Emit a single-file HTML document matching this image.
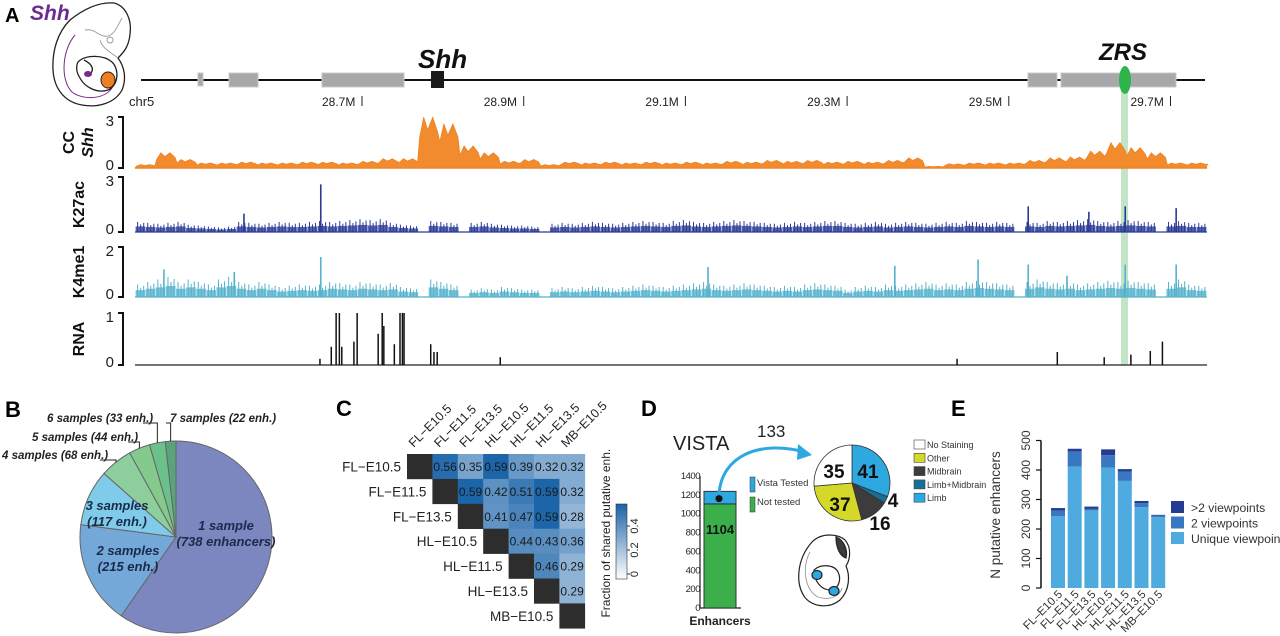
<!DOCTYPE html>
<html><head><meta charset="utf-8"><style>
html,body{margin:0;padding:0;background:#fff;}
svg{display:block;font-family:"Liberation Sans",sans-serif;}
</style></head><body>
<svg id="fig" width="1280" height="636" viewBox="0 0 1280 636" xmlns="http://www.w3.org/2000/svg">
<text x="5" y="22" font-size="20" font-weight="bold">A</text>
<text x="30" y="20" font-size="21" font-weight="bold" font-style="italic" fill="#6a2c91">Shh</text>
<g fill="none" stroke="#222" stroke-width="1.3">
<path d="M70,20 C85,8 100,2 114,3 C126,6 132,20 130,34 C129,46 124,52 118,58 C124,66 127,78 122,90 C115,103 98,108 82,105 C64,102 54,88 53,70 C52,50 58,32 70,20 Z" fill="#fff"/>
<path d="M85,30 C95,28 100,38 108,36 C115,34 118,25 122,18 M100,40 C102,48 110,52 118,58" stroke="#999" stroke-width="0.9"/>
<circle cx="110" cy="40" r="3" stroke="#999" stroke-width="0.9"/>
<path d="M75,35 C62,50 60,80 72,92 C82,100 104,100 112,88" stroke="#7a2a8a" stroke-width="1"/>
<path d="M78,62 C86,54 104,55 112,62 C120,70 118,86 108,90 C96,94 84,86 80,78 C76,72 76,66 78,62 Z" fill="#fff"/>
<path d="M84,60 C92,64 96,70 88,76"/>
</g>
<ellipse cx="88" cy="74" rx="4" ry="3" fill="#7a2a8a"/>
<ellipse cx="108" cy="80" rx="7" ry="8" fill="#f07f22" stroke="#222"/>
<line x1="141" y1="80" x2="1205" y2="80" stroke="#111" stroke-width="2"/>
<g fill="#a8a8a8" stroke="#c8c8c8" stroke-width="1">
<rect x="198" y="73" width="5" height="13"/><rect x="229" y="73" width="29" height="14"/><rect x="322" y="73" width="82" height="14"/>
<rect x="1028" y="73" width="29" height="14"/><rect x="1061" y="73" width="115" height="14"/>
</g>
<rect x="431" y="71" width="13" height="17" fill="#1a1a1a"/>
<text x="418" y="68" font-size="26" font-weight="bold" font-style="italic" fill="#111">Shh</text>
<text x="1099" y="60" font-size="24" font-weight="bold" font-style="italic" fill="#111">ZRS</text>
<rect x="1121" y="86" width="7" height="279" fill="#b9e0bd" opacity="0.85"/>
<ellipse cx="1125" cy="80" rx="6" ry="14" fill="#2db44a"/>
<text x="129" y="106" font-size="13" fill="#222">chr5</text>
<g id="ticksA"></g>
<g id="tracks"></g>
<text x="5" y="417" font-size="22" font-weight="bold">B</text>
<g id="pieB"></g>
<text x="336" y="416" font-size="22" font-weight="bold">C</text>
<g id="heat"></g>
<text x="641" y="416" font-size="22" font-weight="bold">D</text>
<g id="panD"></g>
<text x="951" y="416" font-size="22" font-weight="bold">E</text>
<g id="panE"></g>
</svg>
<script>
// ===== Panel A data =====
const tickMb = [28.7, 28.9, 29.1, 29.3, 29.5, 29.7];
const tickLabels = ["28.7M", "28.9M", "29.1M", "29.3M", "29.5M", "29.7M"];
const ccStart = 28.42;
const ccBin = 0.025;
const ccVals = [0.2,0.9,0.5,0.3,0.3,0.35,0.3,0.3,0.35,0.35,0.3,0.4,0.55,0.55,3,2.6,1.3,0.9,0.4,0.5,0.2,0.35,0.3,0.35,0.3,0.35,0.3,0.35,0.3,0.4,0.35,0.45,0.4,0.45,0.35,0.4,0.35,0.45,0.6,0.1,0.25,0.3,0.3,0.3,0.45,0.6,0.65,1.0,1.5,1.2,0.9,0.3,0.3,0.25];
const chipBin = 0.0125;
const k27Vals = [0.55,0.5,0.45,0.5,0.55,0.4,0.35,0.3,0.25,0.3,0.55,0.5,0.45,0.5,0.55,0.5,0.5,0.55,0.6,0.55,0.6,0.65,0.7,0.65,0.7,0.5,0.4,0.35,0,0.6,0.55,0.5,0,0.5,0.55,0.45,0.4,0.35,0.35,0.3,0,0.45,0.5,0.45,0.5,0.55,0.5,0.45,0.5,0.55,0.6,0.55,0.5,0.6,0.65,0.55,0.5,0.55,0.6,0.65,0.6,0.55,0.5,0.45,0.5,0.55,0.5,0.55,0.6,0.6,0.5,0.45,0.5,0.55,0.45,0.5,0.55,0.5,0.45,0.5,0.55,0.5,0.6,0.55,0.5,0.55,0.5,0,0.55,0.5,0.6,0.55,0.6,0.65,0.7,0.6,0.55,0.6,0.65,0.6,0.55,0,0.55,0.6,0.5,0.5];
const k27SpikeMb = [28.649, 28.554, 29.524, 29.599, 29.644, 29.707];
const k27SpikeVal = [2.6, 1.0, 1.4, 1.1, 1.4, 1.3];
const k4Vals = [0.5,0.6,0.7,0.8,0.6,0.7,0.6,0.5,0.7,0.8,0.6,0.5,0.6,0.5,0.4,0.45,0.5,0.45,0.5,0.6,0.55,0.5,0.6,0.55,0.5,0.55,0.4,0.35,0,0.7,0.6,0.5,0,0.3,0.35,0.3,0.4,0.35,0.3,0.3,0,0.35,0.4,0.35,0.4,0.45,0.4,0.35,0.4,0.45,0.5,0.45,0.4,0.45,0.5,0.55,0.6,0.5,0.45,0.5,0.55,0.5,0.45,0.4,0.45,0.4,0.5,0.55,0.5,0.45,0.3,0.4,0.45,0.4,0.5,0.45,0.5,0.55,0.6,0.5,0.55,0.5,0.6,0.65,0.6,0.55,0.5,0,0.6,0.7,0.6,0.55,0.6,0.5,0.55,0.6,0.65,0.6,0.65,0.6,0.55,0,0.6,0.7,0.5,0.45];
const k4SpikeMb = [28.455, 28.542, 28.649, 29.128, 29.359, 29.462, 29.524, 29.572, 29.644, 29.707];
const k4SpikeVal = [1.1, 1.0, 1.6, 1.2, 1.25, 1.5, 1.3, 0.85, 1.3, 1.3];
const rnaMb = [28.648,28.662,28.668,28.672,28.675,28.690,28.694,28.720,28.725,28.727,28.740,28.747,28.750,28.752,28.785,28.789,28.793,28.871,29.436,29.560,29.618,29.651,29.675,29.690];
const rnaVal = [0.12,0.35,1,1,0.35,0.45,1,0.6,1,0.75,0.4,1,1,1,0.4,0.25,0.25,0.15,0.12,0.25,0.15,0.2,0.27,0.45];

const NS = "http://www.w3.org/2000/svg";
function mk(tag, attrs, parent){const e=document.createElementNS(NS,tag);for(const k in attrs)e.setAttribute(k,attrs[k]);if(parent)parent.appendChild(e);if(tag==='text'&&attrs.txt!==undefined){e.removeAttribute('txt');e.textContent=attrs.txt;}return e;}
function xMb(mb){return 362 + (mb - 28.7) * 808.5;}
const X0 = 135, X1 = 1207;

const ticksA = document.getElementById('ticksA');
tickMb.forEach((m,i)=>{
  const t = mk('text',{x:xMb(m)-40,y:106,'font-size':12,fill:'#222',txt:tickLabels[i]},ticksA);
  
  
  const l = mk('line',{x1:xMb(m),x2:xMb(m),y1:96,y2:106,stroke:'#222','stroke-width':1},ticksA);
  
  
});

const tracks = document.getElementById('tracks');
function trackAxis(name, label, lines, top, base, maxV, labelX){
  const g = mk('g',{},tracks);
  
  
  mk('path',{d:`M118,${top} H123 V${base} H118`,fill:'none',stroke:'#111','stroke-width':2},g);
  mk('text',{x:114,y:top+9,'font-size':15,'text-anchor':'end',fill:'#222',txt:String(maxV)},g);
  mk('text',{x:114,y:base+2,'font-size':15,'text-anchor':'end',fill:'#222',txt:'0'},g);
  const cy=(top+base)/2;
  lines.forEach((ln,i)=>{
    const t = mk('text',{x:0,y:0,'font-size':16,'font-weight':'bold','font-style':ln.it?'italic':'normal','text-anchor':'middle',fill:'#111',
      transform:`translate(${labelX[i]},${cy}) rotate(-90)`,txt:ln.t},g);
    
    
  });
}
const ccTop=117, ccBase=168, ccMax=3;
trackAxis('cc-shh','CC Shh',[{t:'CC'},{t:'Shh',it:true}],ccTop,ccBase,3,[74,93]);
function yCC(v){return ccBase - Math.min(v,ccMax)/ccMax*(ccBase-ccTop);}
let d = `M${X0},${ccBase}`;
ccVals.forEach((v,i)=>{
  const a = Math.max(X0, xMb(ccStart+i*ccBin)), b = Math.min(X1, xMb(ccStart+(i+1)*ccBin));
  if (a>=X1) return;
  const w=b-a;
  d += ` L${a+1},${yCC(v*0.6)} L${a+w*0.25},${yCC(v)} L${a+w*0.45},${yCC(v*0.75)} L${a+w*0.7},${yCC(v*1.0)} L${b-1},${yCC(v*0.7)}`;
});
d += ` L${X1},${ccBase} Z`;
const ccArea = mk('path',{d:d,fill:'#f28a2e',stroke:'#ee7f1e','stroke-width':0.6},tracks);


const ccBaseL = mk('line',{x1:X0,x2:X1,y1:ccBase,y2:ccBase,stroke:'#f08428','stroke-width':1.5},tracks);



function chip(name, vals, spMb, spV, top, base, maxV, color){
  const g = mk('g',{},tracks);
  
  
  const ys = v => base - Math.min(v,maxV)/maxV*(base-top);
  vals.forEach((v,i)=>{
    if (v<=0) return;
    const a = xMb(ccStart+i*chipBin);
    if (a>=X1) return;
    const w = Math.min(xMb(ccStart+(i+1)*chipBin), X1) - a;
    const r = mk('rect',{x:a,y:ys(v*0.55),width:Math.max(w-0.5,0.5),height:base-ys(v*0.55),fill:color,opacity:0.8},g);
    
    
    for (let k=0;k<3;k++){
      const f=[1,0.75,0.9][k];
      const ln = mk('line',{x1:a+w*(0.2+0.3*k),x2:a+w*(0.2+0.3*k),y1:base,y2:ys(v*f),stroke:color,'stroke-width':1},g);
      
      
    }
  });
  spMb.forEach((m,i)=>{
    const s = mk('line',{x1:xMb(m),x2:xMb(m),y1:base,y2:ys(spV[i]),stroke:color,'stroke-width':1.6},g);
    
    
  });
  const bl = mk('line',{x1:X0,x2:X1,y1:base,y2:base,stroke:color,'stroke-width':1.2},g);
  
  
}
trackAxis('k27ac','K27ac',[{t:'K27ac'}],177,232,3,[84]);
chip('k27ac', k27Vals, k27SpikeMb, k27SpikeVal, 177, 232, 3, '#2a3a96');
trackAxis('k4me1','K4me1',[{t:'K4me1'}],247,297,2,[84]);
chip('k4me1', k4Vals, k4SpikeMb, k4SpikeVal, 247, 297, 2, '#55b2cc');
trackAxis('rna','RNA',[{t:'RNA'}],313,365,1,[84]);
(function(){
  const top=313, base=365;
  const g = mk('g',{},tracks);
  
  
  const bl = mk('line',{x1:X0,x2:X1,y1:base,y2:base,stroke:'#222','stroke-width':1.2},g);
  
  
  rnaMb.forEach((m,i)=>{
    const x=xMb(m), y=base-rnaVal[i]*(base-top);
    const s = mk('line',{x1:x,x2:x,y1:base,y2:y,stroke:'#111','stroke-width':1.5},g);
    
    
  });
})();

// ===== Panel B data =====
const pieBCounts = [738, 215, 117, 68, 44, 33, 22];
const pieBColors = ['#7c87c0','#74a8d8','#80cbea','#8ccf9c','#83ca8c','#6cc08a','#5aa37d'];
const pieBLabels1 = ['1 sample','2 samples','3 samples','4 samples (68 enh.)','5 samples (44 enh.)','6 samples (33 enh.)','7 samples (22 enh.)'];
const pieBLabels2 = ['(738 enhancers)','(215 enh.)','(117 enh.)','','','',''];
(function(){
  const g=document.getElementById('pieB');
  const cx=176, cy=537, r=96;
  const tot=pieBCounts.reduce((a,b)=>a+b,0);
  let ang=0;
  const pt=(a,rr)=>[cx+rr*Math.sin(a), cy-rr*Math.cos(a)];
  const mids=[];
  pieBCounts.forEach((c,i)=>{
    const a0=ang, a1=ang+c/tot*2*Math.PI; ang=a1;
    const p0=pt(a0,r), p1=pt(a1,r);
    const s=mk('path',{d:`M${cx},${cy} L${p0[0]},${p0[1]} A${r},${r} 0 ${a1-a0>Math.PI?1:0} 1 ${p1[0]},${p1[1]} Z`,fill:pieBColors[i],stroke:'#666','stroke-width':1},g);
    
    
    mids.push((a0+a1)/2);
  });
  const inner=[[226,530],[128,555],[117,510]];
  for(let i=0;i<3;i++){
    const t1=mk('text',{x:inner[i][0],y:inner[i][1],'font-size':13,'font-weight':'bold','font-style':'italic','text-anchor':'middle',fill:'#1c2a4a',txt:pieBLabels1[i]},g);
    
    
    const t2=mk('text',{x:inner[i][0],y:inner[i][1]+16,'font-size':13,'font-weight':'bold','font-style':'italic','text-anchor':'middle',fill:'#1c2a4a',txt:pieBLabels2[i]},g);
    
    
  }
  const outer=[[2,459,100],[32,441,128],[47,422,143],[170,422,268]];
  for(let j=0;j<4;j++){
    const i=j+3, o=outer[j];
    const t=mk('text',{x:o[0],y:o[1],'font-size':11.5,'font-weight':'bold','font-style':'italic',fill:'#222',txt:pieBLabels1[i]},g);
    
    
    const p=pt(mids[i],r);
    const lx = j<3 ? o[2] : o[0]-4;
    const ln=mk('polyline',{points:`${lx},${o[1]+1} ${p[0]},${o[1]+1} ${p[0]},${p[1]}`,fill:'none',stroke:'#222','stroke-width':1},g);
    
    
  }
})();

// ===== Panel C data =====
const heatNames = ['FL\u2212E10.5','FL\u2212E11.5','FL\u2212E13.5','HL\u2212E10.5','HL\u2212E11.5','HL\u2212E13.5','MB\u2212E10.5'];
const heatRow0 = [null,0.56,0.35,0.59,0.39,0.32,0.32];
const heatRow1 = [null,null,0.59,0.42,0.51,0.59,0.32];
const heatRow2 = [null,null,null,0.41,0.47,0.59,0.28];
const heatRow3 = [null,null,null,null,0.44,0.43,0.36];
const heatRow4 = [null,null,null,null,null,0.46,0.29];
const heatRow5 = [null,null,null,null,null,null,0.29];
const heatRow6 = [null,null,null,null,null,null,null];
const colorTicks = [0, 0.2, 0.4];
(function(){
  const g=document.getElementById('heat');
  const rows=[heatRow0,heatRow1,heatRow2,heatRow3,heatRow4,heatRow5,heatRow6];
  const ox=407, oy=454, cw=25.4, ch=24.9;
  const col=v=>{const t=Math.min(v/0.6,1);return `rgb(${Math.round(255-t*231)},${Math.round(255-t*157)},${Math.round(255-t*87)})`;};
  rows.forEach((row,r)=>{
    row.forEach((v,c)=>{
      if(c<r) return;
      const x=ox+c*cw, y=oy+r*ch;
      const rc=mk('rect',{x:x,y:y,width:cw+0.3,height:ch+0.3,fill:c===r?'#2d2d2d':col(v)},g);
      
      
      if(c>r){
        const t=mk('text',{x:x+cw/2,y:y+ch/2+4.5,'font-size':12,'text-anchor':'middle',fill:'#1a1a1a',txt:v.toFixed(2)},g);
        
        
      }
    });
    const rl=mk('text',{x:ox+r*cw-6,y:oy+r*ch+ch/2+5,'font-size':13.5,'text-anchor':'end',fill:'#222',txt:heatNames[r]},g);
    
    
    const cl=mk('text',{x:0,y:0,'font-size':12.5,fill:'#222',transform:`translate(${ox+r*cw+cw/2-6},${oy-6}) rotate(-45)`,txt:heatNames[r]},g);
    
    
  });
  const defs=mk('defs',{},g);
  const lg=mk('linearGradient',{id:'cbar',x1:0,y1:1,x2:0,y2:0},defs);
  mk('stop',{offset:0,'stop-color':'#ffffff'},lg);
  mk('stop',{offset:1,'stop-color':'#1a62a8'},lg);
  const cbx=616, cbTop=504, cbBot=579;
  const cb=mk('rect',{x:cbx,y:cbTop,width:11,height:cbBot-cbTop,fill:'url(#cbar)',stroke:'#333','stroke-width':0.6},g);
  
  
  colorTicks.forEach(v=>{
    const y=cbBot-5 - v/0.4*48;
    mk('line',{x1:cbx+11,x2:cbx+14,y1:y,y2:y,stroke:'#333'},g);
    const t=mk('text',{x:0,y:0,'font-size':11,'text-anchor':'middle',fill:'#222',transform:`translate(${cbx+22},${y}) rotate(-90)`,txt:String(v)},g);
    
    
  });
  const ct=mk('text',{x:0,y:0,'font-size':12,'text-anchor':'middle',fill:'#222',transform:`translate(${cbx-6},${(oy+oy+7*ch)/2-8}) rotate(-90)`,txt:'Fraction of shared putative enh.'},g);
  
  
})();

// ===== Panel D data =====
const vistaNotTested = 1104;
const vistaTested = 133;
const barDTicks = [0,200,400,600,800,1000,1200,1400];
const pieDCounts = [41, 4, 16, 37, 35];
const pieDColors = ['#2ea8e0','#176f98','#3c3c3c','#d5d829','#ffffff'];
const pieDNames = ['Limb','Limb+Midbrain','Midbrain','Other','No Staining'];
(function(){
  const g=document.getElementById('panD');
  const base=608, yS=v=>base - v/1400*132;
  const t1=mk('text',{x:673,y:450,'font-size':20,fill:'#222',txt:'VISTA'},g);
  
  
  barDTicks.forEach(v=>{
    const t=mk('text',{x:700,y:yS(v)+3,'font-size':9.5,'text-anchor':'end',fill:'#222','letter-spacing':'-0.5',txt:String(v)},g);
    
    
  });
  const ax=mk('path',{d:`M700,${yS(1400)} V${base} H741`,fill:'none',stroke:'#222','stroke-width':1.2},g);
  
  
  const bg=mk('rect',{x:704,y:yS(vistaNotTested),width:32,height:base-yS(vistaNotTested),fill:'#3bb04a',stroke:'#333'},g);
  
  
  const bb=mk('rect',{x:704,y:yS(vistaNotTested+vistaTested),width:32,height:yS(vistaNotTested)-yS(vistaNotTested+vistaTested),fill:'#2ea8e0',stroke:'#333'},g);
  
  
  mk('circle',{cx:719,cy:(yS(vistaNotTested)+yS(vistaNotTested+vistaTested))/2+1,r:3.5,fill:'#111'},g);
  const bt=mk('text',{x:720,y:yS(vistaNotTested)+30,'font-size':13,'font-weight':'bold','text-anchor':'middle',fill:'#111',txt:String(vistaNotTested)},g);
  
  
  const xl=mk('text',{x:720,y:625,'font-size':12,'font-weight':'bold','text-anchor':'middle',fill:'#222',txt:'Enhancers'},g);
  
  
  const l1=mk('rect',{x:750,y:477,width:5,height:15,fill:'#2ea8e0',stroke:'#333','stroke-width':0.5},g);
   
  const lt1=mk('text',{x:757,y:486,'font-size':9.5,fill:'#333',txt:'Vista Tested'},g);
   
  const l2=mk('rect',{x:750,y:497,width:5,height:15,fill:'#3bb04a',stroke:'#333','stroke-width':0.5},g);
   
  const lt2=mk('text',{x:757,y:505,'font-size':9.5,fill:'#333',txt:'Not tested'},g);
   
  const ar=mk('path',{d:'M719,494 C722,455 760,440 805,452',fill:'none',stroke:'#2ea8e0','stroke-width':3},g);
   
  mk('path',{d:'M812,455 L798,444 L797,460 Z',fill:'#2ea8e0'},g);
  const nt=mk('text',{x:757,y:437,'font-size':17,fill:'#222',txt:String(vistaTested)},g);
   
  const cx=852, cy=483, r=38;
  const tot=pieDCounts.reduce((a,b)=>a+b,0);
  let ang=0; const pt=(a,rr)=>[cx+rr*Math.sin(a),cy-rr*Math.cos(a)];
  const labPos=[[868,478,'#111'],[893,507,'#111'],[880,530,'#111'],[840,511,'#111'],[834,478,'#111']];
  pieDCounts.forEach((c,i)=>{
    const a0=ang,a1=ang+c/tot*2*Math.PI; ang=a1;
    const p0=pt(a0,r),p1=pt(a1,r);
    const s=mk('path',{d:`M${cx},${cy} L${p0[0]},${p0[1]} A${r},${r} 0 ${a1-a0>Math.PI?1:0} 1 ${p1[0]},${p1[1]} Z`,fill:pieDColors[i],stroke:'#333','stroke-width':0.8},g);
     
    const t=mk('text',{x:labPos[i][0],y:labPos[i][1],'font-size':19,'font-weight':'bold','text-anchor':'middle',fill:labPos[i][2],txt:String(c)},g);
     
  });
  const legOrder=[4,3,2,1,0];
  legOrder.forEach((k,j)=>{
    const y=440+j*13.3;
    const sw=mk('rect',{x:914,y:y,width:11,height:9,fill:pieDColors[k],stroke:'#444','stroke-width':0.6},g);
     
    const t=mk('text',{x:927,y:y+8,'font-size':9,fill:'#333',txt:pieDNames[k]},g);
     
  });
  const eg=mk('g',{fill:'none',stroke:'#222','stroke-width':1.2},g);
   
  mk('path',{d:'M812,542 C822,532 838,534 845,540 C852,548 850,560 846,566 C850,575 850,590 840,600 C828,610 810,606 804,596 C796,584 796,560 812,542 Z',fill:'#fff'},eg);
  mk('path',{d:'M836,537 C844,540 848,550 846,558 C840,556 836,548 836,537 Z',fill:'#3c3c3c'},eg);
  mk('path',{d:'M810,552 C802,566 804,590 818,597 C830,601 840,596 842,588',stroke:'#999','stroke-width':0.9},eg);
  mk('path',{d:'M814,570 C820,564 834,564 838,572 C842,580 838,590 830,590 C822,590 814,582 814,570 Z',fill:'#fff'},eg);
  mk('ellipse',{cx:817,cy:575,rx:5,ry:4.5,fill:'#2ea8e0'},eg);
  mk('ellipse',{cx:834,cy:591,rx:5,ry:4.5,fill:'#2ea8e0'},eg);
})();

// ===== Panel E data =====
const eCats = ['FL\u2013E10.5','FL\u2013E11.5','FL\u2013E13.5','HL\u2013E10.5','HL\u2013E11.5','HL\u2013E13.5','MB\u2013E10.5'];
const eUnique = [243, 412, 263, 408, 363, 274, 240];
const eTwo = [19, 51, 5, 42, 32, 14, 6];
const eMore = [9, 9, 8, 20, 8, 7, 2];
const eTicks = [0,100,200,300,400,500];
(function(){
  const g=document.getElementById('panE');
  const base=588, yS=v=>base - v*0.295;
  const ax=mk('line',{x1:1041,x2:1041,y1:yS(500),y2:base,stroke:'#111','stroke-width':1.5},g);
   
  eTicks.forEach(v=>{
    mk('line',{x1:1036,x2:1041,y1:yS(v),y2:yS(v),stroke:'#111','stroke-width':1.2},g);
    const t=mk('text',{x:0,y:0,'font-size':12,'text-anchor':'middle',fill:'#333',transform:`translate(${1030},${yS(v)}) rotate(-90)`,txt:String(v)},g);
     
  });
  const yt=mk('text',{x:0,y:0,'font-size':13.5,'text-anchor':'middle',fill:'#333',transform:'translate(1000,515) rotate(-90)',txt:'N putative enhancers'},g);
   
  const cols=['#4faadf','#3a77c1','#263c93'];
  eCats.forEach((c,i)=>{
    const x=1051+i*16.7, w=14;
    const segs=[eUnique[i],eTwo[i],eMore[i]];
    let acc=0;
    segs.forEach((s,k)=>{
      const r=mk('rect',{x:x,y:yS(acc+s),width:w,height:yS(acc)-yS(acc+s),fill:cols[k]},g);
      
      
      acc+=s;
    });
    const t=mk('text',{x:0,y:0,'font-size':11.5,'text-anchor':'end',fill:'#333',transform:`translate(${x+w/2+5},${base+7}) rotate(-45)`,txt:c},g);
     
  });
  const legN=['>2 viewpoints','2 viewpoints','Unique viewpoint'];
  [2,1,0].forEach((k,j)=>{
    const y=501+j*15.5;
    const sw=mk('rect',{x:1171,y:y,width:13,height:12,fill:cols[k]},g);
     
    const t=mk('text',{x:1191,y:y+11,'font-size':12.2,fill:'#333',txt:legN[j]},g);
     
  });
})();
</script>
</body></html>
